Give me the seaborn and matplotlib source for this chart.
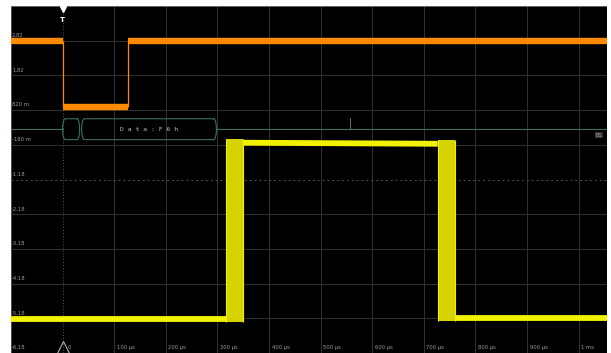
import numpy as np
import pandas as pd
import matplotlib
matplotlib.use("Agg")
import matplotlib.pyplot as plt
import seaborn as sns

# Time in microseconds, voltage in volts
t_start, t_end = -100, 1055
v_top, v_bottom = 3.82, -6.18

# Channel 2 (orange): edge times and the levels between them
orange_edges = [0, 126]
orange_levels = [2.82, 0.90, 2.82]

# Channel 1 (yellow): low / high levels and the two transition bands
yellow_rise_band = [316, 349]
yellow_fall_band = [727, 760]
yellow_low_before = -5.20
yellow_high_start = -0.12
yellow_high_end = -0.15
yellow_low_after = -5.17

# Decoded serial bus frames
bus_starts = [0, 37]
bus_ends = [33, 298]
bus_texts = ["", "D a t a : F 6 h"]
bus_center = 0.27
bus_half = 0.30
bus_marker_t = 557

volt_ticks = [2.82, 1.82, 0.82, -0.18, -1.18, -2.18, -3.18, -4.18, -5.18, -6.18]
volt_labels = ["2,82", "1,82", "820 m", "-180 m", "-1,18", "-2,18",
               "-3,18", "-4,18", "-5,18", "-6,18"]
time_ticks = [100, 200, 300, 400, 500, 600, 700, 800, 900, 1000]
time_labels = ["100 µs", "200 µs", "300 µs", "400 µs", "500 µs",
               "600 µs", "700 µs", "800 µs", "900 µs", "1 ms"]

ORANGE = "#ff8a00"
YELLOW = "#f2f200"
BAND = "#d6d300"
GRID = "#333333"
LABEL = "#9a9a9a"
BUS = "#3f6f5e"

sns.set_theme(style="dark")
plt.rcParams["font.family"] = ["DejaVu Sans"]

fig = plt.figure(figsize=(6.11, 3.53), dpi=100, facecolor="white")
ax = fig.add_axes([11 / 611, 0, 596 / 611, 347 / 353])
ax.set_facecolor("black")
ax.set_xlim(t_start, t_end)
ax.set_ylim(v_bottom, v_top)
for s in ax.spines.values():
    s.set_visible(False)
ax.set_xticks([])
ax.set_yticks([])
ax.grid(False)

# graticule
for t in range(-100, 1001, 100):
    if t == 0:
        ax.axvline(t, color="#5a5a5a", lw=0.7, ls=(0, (1, 2)), zorder=1)
    else:
        ax.axvline(t, color=GRID if t > -100 else "#555555", lw=0.7, zorder=1)
for k in range(11):
    v = v_top - k
    if abs(v + 1.18) < 1e-6:
        ax.axhline(v, color="#505050", lw=0.7, ls=(0, (2, 3)), zorder=1)
    else:
        ax.axhline(v, color="#777777" if k == 0 else GRID,
                   lw=1.2 if k == 0 else 0.7, zorder=1)

# axis labels drawn inside the screen
for v, lab in zip(volt_ticks, volt_labels):
    ax.text(-98, v + 0.08, lab, color=LABEL, fontsize=3.8, ha="left", va="bottom")
for t, lab in zip(time_ticks, time_labels):
    ax.text(t + 5, -6.03, lab, color=LABEL, fontsize=3.8, ha="left", va="center")
ax.text(10, -6.03, "0", color=LABEL, fontsize=3.8, ha="left", va="center")
ax.plot([0], [-6.0], marker="^", ms=8, mfc="none", mec="#b0b0b0", mew=0.8, zorder=5)

# trigger marker at the top
ax.plot([0], [3.74], marker="v", ms=4, color="white", zorder=6)
ax.text(0, 3.42, "T", color="white", fontsize=5, fontweight="bold",
        ha="center", va="center", zorder=6)

# --- orange channel ---
bounds = [t_start] + orange_edges + [t_end]
rows = []
for i, lvl in enumerate(orange_levels):
    rows.append({"t": bounds[i], "v": lvl, "seg": i})
    rows.append({"t": bounds[i + 1], "v": lvl, "seg": i})
orange_df = pd.DataFrame(rows)
n_before = len(ax.lines)
sns.lineplot(data=orange_df, x="t", y="v", units="seg", estimator=None,
             color=ORANGE, lw=4.6, ax=ax, zorder=4, legend=False)
for line in ax.lines[n_before:]:
    line.set_solid_capstyle("butt")
for i, t in enumerate(orange_edges):
    ax.vlines(t, min(orange_levels[i], orange_levels[i + 1]),
              max(orange_levels[i], orange_levels[i + 1]), color=ORANGE, lw=0.9, zorder=3)

# --- yellow channel ---
yellow_df = pd.DataFrame({
    "t": [t_start, yellow_rise_band[0], yellow_rise_band[1], yellow_fall_band[0],
          yellow_fall_band[1], t_end],
    "v": [yellow_low_before, yellow_low_before, yellow_high_start, yellow_high_end,
          yellow_low_after, yellow_low_after],
    "seg": [0, 0, 1, 1, 2, 2],
})
n_before = len(ax.lines)
sns.lineplot(data=yellow_df, x="t", y="v", units="seg", estimator=None,
             color=YELLOW, lw=4.2, ax=ax, zorder=4, legend=False)
for line in ax.lines[n_before:]:
    line.set_solid_capstyle("butt")
for (a, b), lo, hi in [(yellow_rise_band, yellow_low_before, yellow_high_start),
                       (yellow_fall_band, yellow_low_after, yellow_high_end)]:
    ax.fill_between([a, b], lo - 0.1, hi + 0.12, color=BAND, lw=0, zorder=4)
    ax.vlines([a, b], lo - 0.1, hi + 0.12, color=YELLOW, lw=0.8, zorder=4)

# --- decoded bus ---
ax.plot([t_start, bus_starts[0]], [bus_center, bus_center], color=BUS, lw=0.8, zorder=3)
ax.plot([bus_ends[-1], t_end], [bus_center, bus_center], color=BUS, lw=0.8, zorder=3)
ax.plot([bus_marker_t, bus_marker_t], [bus_center, bus_center + 0.32],
        color="#6a6a6a", lw=0.8, zorder=3)
theta = np.linspace(-np.pi / 2, np.pi / 2, 20)
cap = 5
for a, b, txt in zip(bus_starts, bus_ends, bus_texts):
    # frame outline with rounded caps at both ends
    xs = np.concatenate([b - cap + cap * np.cos(theta[::-1]),
                         a + cap - cap * np.cos(theta)])
    ys = np.concatenate([bus_center + bus_half * np.sin(theta[::-1]),
                         bus_center + bus_half * np.sin(theta)])
    xs = np.append(xs, xs[0])
    ys = np.append(ys, ys[0])
    ax.plot(xs, ys, color=BUS, lw=0.8, zorder=3)
    if txt:
        ax.text((a + b) / 2, bus_center, txt, color="#c0c0c0", fontsize=4.6,
                family="DejaVu Sans Mono", ha="center", va="center", zorder=5)
ax.text(1040, 0.1, "B1", color="#a0a0a0", fontsize=3.6, ha="center", va="center",
        bbox=dict(boxstyle="square,pad=0.15", fc="#333333", ec="none"))

fig.savefig("out.png", dpi=100, facecolor="white")
